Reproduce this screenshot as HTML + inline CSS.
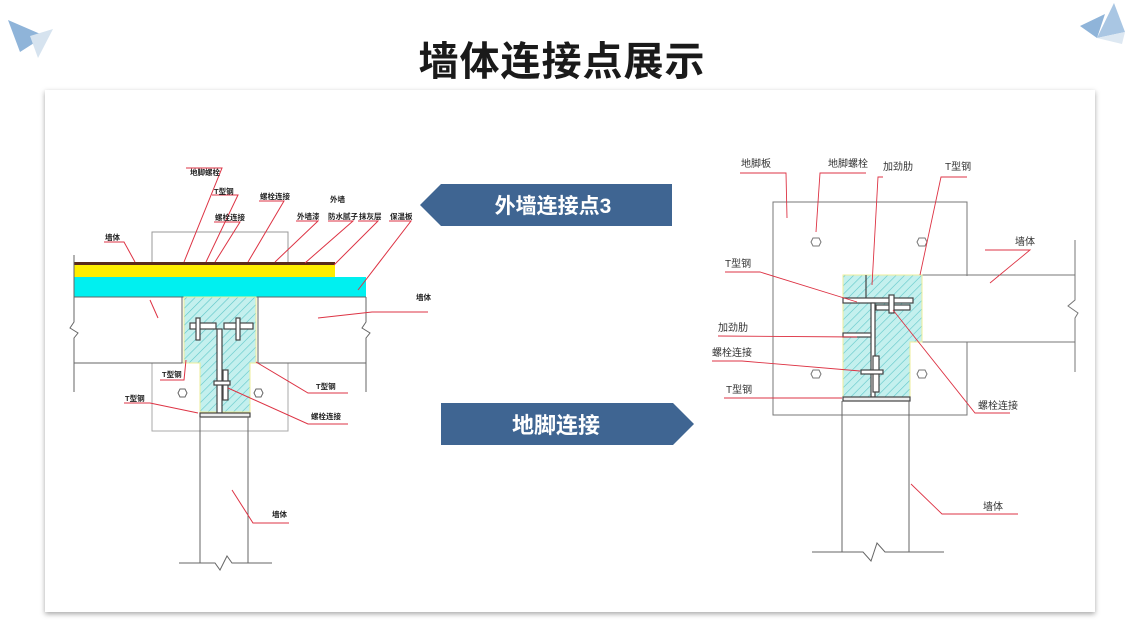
<!DOCTYPE html>
<html><head><meta charset="utf-8"><style>
html,body{margin:0;padding:0;background:#fff;}
body{width:1140px;height:641px;position:relative;overflow:hidden;font-family:"Liberation Sans","Noto Sans CJK SC",sans-serif;}
.card{position:absolute;left:45px;top:90px;width:1050px;height:522px;background:#fff;box-shadow:0 2px 5px rgba(0,0,0,0.35);}
</style></head><body>
<div class="card"></div>
<svg width="1140" height="641" style="position:absolute;left:0;top:0" font-family="'Liberation Sans','Noto Sans CJK SC',sans-serif">
<defs>
<pattern id="h" width="6" height="6" patternUnits="userSpaceOnUse" patternTransform="rotate(45)">
<rect width="6" height="6" fill="#c4f0ee"/><line x1="0" y1="0" x2="0" y2="6" stroke="#5cc6c8" stroke-width="1.2"/>
</pattern>
</defs>
<polygon points="8,20 45,36 20,52" fill="#8fb4d9"/>
<polygon points="30,36 53,29 38,58" fill="#d6e3ef"/>
<polygon points="1080,26 1105,14 1097,38" fill="#8fb4d9"/>
<polygon points="1097,38 1114,3 1125,32" fill="#a9c6e3"/>
<polygon points="1097,38 1125,32 1122,44" fill="#dde8f2"/>
<text x="562" y="75" text-anchor="middle" font-size="40" font-weight="bold" fill="#1a1a1a" letter-spacing="1">墙体连接点展示</text>
<polygon points="420,205 441,184 672,184 672,226 441,226" fill="#3f6592"/>
<text x="553" y="213" text-anchor="middle" font-size="21" font-weight="bold" fill="#fff">外墙连接点3</text>
<polygon points="441,403 673,403 694,424 673,445 441,445" fill="#3f6592"/>
<text x="556" y="433" text-anchor="middle" font-size="22" font-weight="bold" fill="#fff">地脚连接</text>

<g stroke="#777" stroke-width="1" fill="none">
<rect x="152" y="232" width="136" height="31" stroke="#999"/>
<rect x="152" y="363" width="136" height="68" stroke="#aaa"/>
</g>
<rect x="74" y="262" width="261" height="3" fill="#5a2a1a"/>
<rect x="74" y="265" width="261" height="12" fill="#ffee00"/>
<rect x="74" y="277" width="292" height="20" fill="#00f0f0"/>
<line x1="74" y1="297" x2="366" y2="297" stroke="#666"/>
<g stroke="#666" stroke-width="1" fill="none">
<polyline points="74,255 74,322 70,328 78,333 74,338 74,392"/>
<polyline points="366,297 366,322 362,328 370,333 366,338 366,392"/>
<line x1="74" y1="363" x2="182" y2="363"/><line x1="258" y1="363" x2="366" y2="363"/>
<line x1="182" y1="297" x2="182" y2="363"/><line x1="258" y1="297" x2="258" y2="363"/>
</g>
<path d="M184,297 H256 V363 H250 V412 H200 V363 H184 Z" fill="url(#h)" stroke="#ee9" stroke-width="1"/>
<g stroke="#444" stroke-width="1.2" fill="#fff">
<rect x="190" y="323" width="26" height="6"/><rect x="224" y="323" width="29" height="6"/>
<rect x="217" y="329" width="5" height="84"/>
<rect x="223" y="370" width="5" height="30"/>
<rect x="200" y="413" width="50" height="4" fill="#eee"/>
<rect x="196" y="318" width="4" height="22"/><rect x="236" y="318" width="4" height="22"/>
<rect x="214" y="381" width="16" height="4"/>
</g>
<g stroke="#666" fill="none">
<polygon points="178,393 180,389 185,389 187,393 185,397 180,397"/>
<polygon points="254,393 256,389 261,389 263,393 261,397 256,397"/>
<line x1="200" y1="417" x2="200" y2="563"/><line x1="248" y1="417" x2="248" y2="563"/>
<polyline points="179,563 215,563 220,570 227,556 232,563 272,563"/>
</g>
<g stroke="#d34" stroke-width="1" fill="none">
<polyline points="186,168 222,168 184,262"/>
<polyline points="212,195 238,195 206,262"/>
<polyline points="214,222 240,222 215,262"/>
<polyline points="259,201 284,201 248,262"/>
<polyline points="296,221 318,221 275,262"/>
<polyline points="328,221 353,221 305,263"/>
<polyline points="358,221 378,221 334,265"/>
<polyline points="389,221 411,221 358,290"/>
<polyline points="104,242 124,242 135,262"/>
<line x1="150" y1="300" x2="158" y2="318"/>
<polyline points="318,318 372,312 428,312"/>
<polyline points="160,380 184,380 186,360"/>
<polyline points="256,362 308,393 348,393"/>
<polyline points="124,403 150,403 198,413"/>
<polyline points="228,388 308,424 348,424"/>
<polyline points="232,490 253,523 289,523"/>
</g>
<g font-size="7.5" font-weight="bold" fill="#222">
<text x="190" y="175">地脚螺栓</text>
<text x="214" y="194">T型钢</text>
<text x="260" y="199">螺栓连接</text>
<text x="215" y="220">螺栓连接</text>
<text x="330" y="202">外墙</text>
<text x="297" y="219">外墙漆</text>
<text x="328" y="219">防水腻子</text>
<text x="359" y="219">抹灰层</text>
<text x="390" y="219">保温板</text>
<text x="105" y="240">墙体</text>
<text x="416" y="300">墙体</text>
<text x="162" y="377">T型钢</text>
<text x="316" y="389">T型钢</text>
<text x="125" y="401">T型钢</text>
<text x="311" y="419">螺栓连接</text>
<text x="272" y="517">墙体</text>
</g>

<g stroke="#777" fill="none" stroke-width="1">
<rect x="773" y="202" width="194" height="213"/>
<polygon points="811,242 813,238 819,238 821,242 819,246 813,246"/>
<polygon points="917,242 919,238 925,238 927,242 925,246 919,246"/>
<polygon points="811,374 813,370 819,370 821,374 819,378 813,378"/>
<polygon points="917,374 919,370 925,370 927,374 925,378 919,378"/>
</g>
<rect x="923" y="276" width="152" height="66" fill="#fff"/>
<g stroke="#777" fill="none">
<line x1="922" y1="275" x2="1075" y2="275"/><line x1="922" y1="342" x2="1075" y2="342"/>
<line x1="922" y1="275" x2="922" y2="342"/>
<polyline points="1075,240 1075,300 1068,306 1078,313 1075,318 1075,372"/>
</g>
<path d="M843,275 H922 V342 H910 V397 H843 Z" fill="url(#h)" stroke="#ee9"/>
<g stroke="#444" stroke-width="1.2" fill="#fff">
<rect x="843" y="298" width="70" height="5"/>
<rect x="876" y="305" width="34" height="5"/>
<rect x="871" y="303" width="4" height="94"/>
<rect x="843" y="333" width="28" height="4"/>
<line x1="866" y1="275" x2="866" y2="298"/>
<rect x="873" y="356" width="6" height="36"/>
<rect x="861" y="370" width="22" height="4"/>
<rect x="889" y="295" width="5" height="18"/>
<rect x="843" y="397" width="67" height="4" fill="#eee"/>
</g>
<g stroke="#666" fill="none">
<line x1="842" y1="401" x2="842" y2="552"/><line x1="909" y1="401" x2="909" y2="552"/>
<polyline points="812,552 863,552 871,561 877,543 885,552 944,552"/>
</g>
<g stroke="#d34" stroke-width="0.9" fill="none">
<polyline points="740,173 786,173 787,218"/>
<polyline points="866,173 820,173 816,232"/>
<polyline points="883,177 878,177 872,285"/>
<polyline points="967,177 941,177 920,275"/>
<polyline points="985,250 1030,250 990,283"/>
<polyline points="725,272 760,272 857,302"/>
<polyline points="718,336 857,337"/>
<polyline points="712,361 742,361 860,371"/>
<polyline points="724,398 842,398"/>
<polyline points="893,310 975,413 1010,413"/>
<polyline points="911,484 942,514 1018,514"/>
</g>
<g font-size="10" fill="#333">
<text x="741" y="167">地脚板</text>
<text x="828" y="167">地脚螺栓</text>
<text x="883" y="170">加劲肋</text>
<text x="945" y="170">T型钢</text>
<text x="1015" y="245">墙体</text>
<text x="725" y="267">T型钢</text>
<text x="718" y="331">加劲肋</text>
<text x="712" y="356">螺栓连接</text>
<text x="726" y="393">T型钢</text>
<text x="978" y="409">螺栓连接</text>
<text x="983" y="510">墙体</text>
</g>
</svg>
</body></html>
